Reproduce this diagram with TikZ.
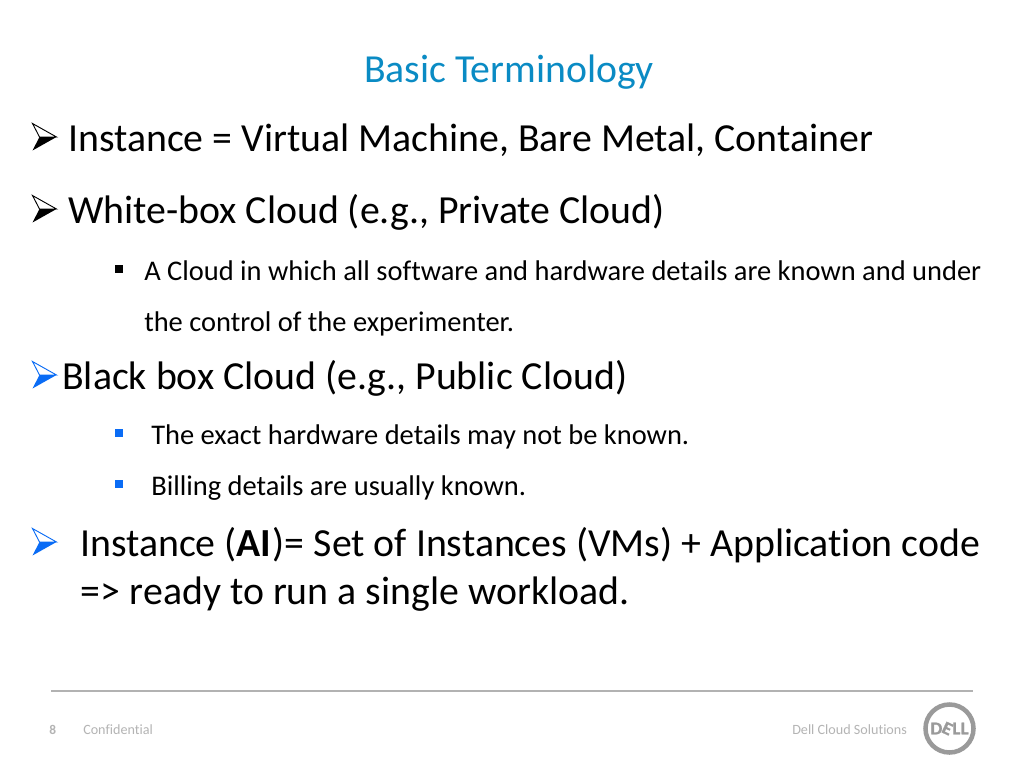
\documentclass[tikz,border=0pt]{standalone}
\usepackage{fontspec}
\setmainfont[RawFeature={-liga}]{Carlito}
\newfontfamily\logofont[FakeStretch=1.05,FakeBold=1.2]{Carlito Bold}
\definecolor{titleblue}{HTML}{0A8BC4}
\definecolor{bulletblue}{HTML}{0A6CF5}
\definecolor{footgray}{HTML}{B4B4B4}
\definecolor{linegray}{HTML}{B2B2B2}
\definecolor{logogray}{HTML}{9A9A9A}
\newcommand{\arrowbullet}[3]{%
  \begin{scope}[shift={(#1,#2)}]
    \draw[#3,line width=0.7pt,line join=miter,fill=white] (0,-13.5) -- (24,0) -- (7,0) -- cycle;
    \fill[#3] (0,13.5) -- (24,0) -- (7,0) -- cycle;
  \end{scope}}
\newcommand{\squarebullet}[3]{\fill[#3] (#1-4,#2-4) rectangle (#1+4,#2+4);}
\tikzset{
  x=0.75pt,y=-0.75pt,
  titletext/.style={anchor=base,inner sep=0,font=\fontsize{29.8pt}{32pt}\selectfont,text=titleblue},
  bigtext/.style={anchor=base west,inner sep=0,font=\fontsize{29.85pt}{32pt}\selectfont,text=black},
  smalltext/.style={anchor=base west,inner sep=0,font=\fontsize{21.35pt}{24pt}\selectfont,text=black},
  foottext/.style={anchor=base west,inner sep=0,font=\fontsize{10.6pt}{12pt}\selectfont,text=footgray}
}
\begin{document}
\begin{tikzpicture}
\useasboundingbox (0,0) rectangle (1024,768);
\fill[white] (0,0) rectangle (1024,768);
\node[titletext] (title) at (509,82) {Basic Terminology};
\arrowbullet{32.5}{137}{black}
\node[bigtext] (l1) at (68,151.4) {Instance = Virtual Machine, Bare Metal, Container};
\arrowbullet{32.5}{209}{black}
\node[bigtext] (l2) at (68,223.4) {White-box Cloud (e.g., Private Cloud)};
\squarebullet{119}{269}{black}
\node[smalltext] (l3) at (144,280) {A Cloud in which all software and hardware details are known and under};
\node[smalltext] (l4) at (144,331) {the control of the experimenter.};
\arrowbullet{32.5}{375}{bulletblue}
\node[bigtext] (l5) at (62,389.4) {Black box Cloud (e.g., Public Cloud)};
\squarebullet{119}{433}{bulletblue}
\node[smalltext] (l6) at (151,444) {The exact hardware details may not be known.};
\squarebullet{119}{484}{bulletblue}
\node[smalltext] (l7) at (151,495) {Billing details are usually known.};
\arrowbullet{32.5}{542}{bulletblue}
\node[bigtext] (l8) at (80,556.4) {Instance (\textbf{AI}\kern1pt)= Set of Instances (VMs) + Application code};
\node[bigtext] (l9) at (80,604.4) {=>\kern0.8pt{} ready to run a single workload.};
\coordinate (ruleL) at (51,691);
\coordinate (ruleR) at (973,691);
\draw[linegray,line width=1pt] (ruleL) -- (ruleR);
\node[foottext,font=\fontsize{10pt}{12pt}\bfseries\selectfont] (num) at (49,734) {8};
\node[foottext] (conf) at (83,734) {Confidential};
\node[foottext] (dcs) at (792,734) {Dell Cloud Solutions};
\node[draw=logogray,line width=3.4pt,circle,minimum size=36pt,inner sep=0] (ring) at (949.5,728.5) {};
\node[anchor=center,inner sep=0,text=logogray,font=\logofont\fontsize{13.5pt}{16pt}\selectfont] (logo) at (949.5,728.5) {D\kern-1.2pt\rotatebox[origin=c]{-25}{E}\kern-1.2pt L\kern0.2pt L};
\end{tikzpicture}
\end{document}
